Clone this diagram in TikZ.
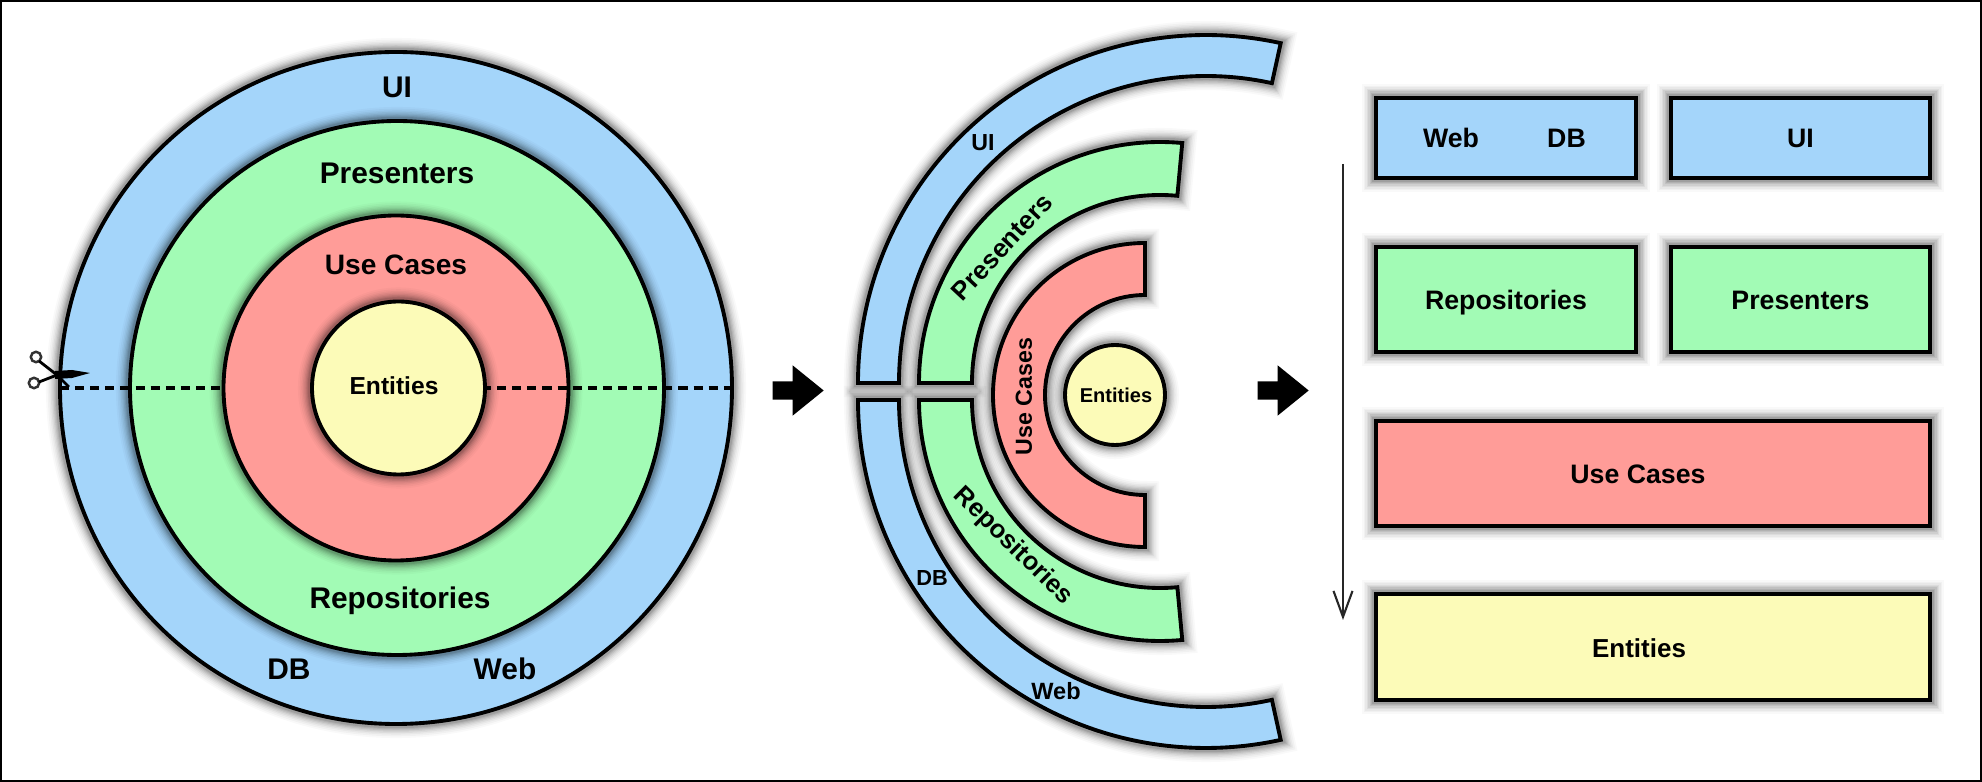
\documentclass[tikz,border=0pt]{standalone}
\usepackage{fontspec}
\setmainfont{Liberation Sans}
\usetikzlibrary{arrows.meta,shapes.arrows}

\definecolor{uiblue}{HTML}{A4D5FA}
\definecolor{repogreen}{HTML}{A2FBB5}
\definecolor{casered}{HTML}{FF9C98}
\definecolor{entyellow}{HTML}{FCFBB8}

\begin{document}
\begin{tikzpicture}[
    glow/.style={
        preaction={draw=black,draw opacity=.025,line width=8pt},
        preaction={draw=black,draw opacity=.03,line width=7pt},
        preaction={draw=black,draw opacity=.04,line width=6pt},
        preaction={draw=black,draw opacity=.05,line width=5.2pt},
        preaction={draw=black,draw opacity=.06,line width=4.4pt},
        preaction={draw=black,draw opacity=.07,line width=3.7pt},
        preaction={draw=black,draw opacity=.08,line width=3pt},
        preaction={draw=black,draw opacity=.10,line width=2.4pt}
    },
    ring/.style={draw=black, line width=1.1pt, line join=miter, glow},
    disc/.style={ring, circle, inner sep=0pt, outer sep=0pt},
    box/.style={ring, rectangle, line width=1.3pt, inner sep=0pt, outer sep=0pt,
        text height=5.5pt, text depth=0pt, font=\fontsize{7.6}{9}\bfseries},
    label/.style={inner sep=0pt, font=\fontsize{8.5}{10}\bfseries},
    bigarrow/.style={single arrow, fill=black, inner sep=.085cm, minimum height=.51cm,
        single arrow head extend=.16cm, single arrow tip angle=78, anchor=tail},
    cutline/.style={line width=1pt, dash pattern=on 2.6pt off 1.7pt},
    flow/.style={-{Straight Barb[length=2.6mm,width=1.9mm]}, line width=.6pt, black!85}
]
\useasboundingbox (0,0) rectangle (19.82,7.82);
\draw[line width=.6pt] (.01,.01) rectangle (19.81,7.81);

% Left picture, concentric circles
\node[disc, fill=uiblue, minimum size=6.72cm]    (uicircle)   at (3.96, 3.94) {};
\node[disc, fill=repogreen, minimum size=5.34cm] (repocircle) at (3.97, 3.94) {};
\node[disc, fill=casered, minimum size=3.45cm]   (casecircle) at (3.96, 3.94) {};

% Cut line, stops at the red circle on the left
\draw[cutline] (uicircle.west) -- (casecircle.west);
\draw[cutline] (casecircle.center) ++(.86,0) -- (uicircle.east);

\node[disc, fill=entyellow, minimum size=1.73cm] (entcircle)  at (3.985, 3.94) {};

\node[label] (uitext)    at (3.97, 6.95) {UI};
\node[label] (pretext)   at (3.97, 6.09) {Presenters};
\node[label, font=\fontsize{8}{10}\bfseries] (casetext) at (3.96, 5.17) {Use Cases};
\node[label, font=\fontsize{7}{9}\bfseries]  (enttext)  at (3.94, 3.96) {Entities};
\node[label] (repotext)  at (4.00, 1.81) {Repositories};
\node[label] (dbtext)    at (2.89, 1.13) {DB};
\node[label] (webtext)   at (5.05, 1.13) {Web};

% Scissors
\draw[line width=.7pt, black!80] (.36,4.25) circle (.052);
\draw[line width=.7pt, black!80] (.34,3.99) circle (.052);
\draw[line width=.8pt] (.39,4.21) -- (.57,4.07) -- (.69,3.95);
\draw[line width=.8pt] (.39,4.00) -- (.57,4.07);
\fill (.55,4.11) -- (.72,4.12) -- (.90,4.09) -- (.72,4.04) -- (.55,4.03) -- cycle;

\node[bigarrow] (firstarrow) at (7.72, 3.915) {};

% Middle picture, cut rings
\coordinate (uitop)    at (12.06, 3.99);
\coordinate (uibot)    at (12.06, 3.82);
\coordinate (repotop)  at (11.60, 3.99);
\coordinate (repobot)  at (11.60, 3.82);
\coordinate (casemid)  at (11.45, 3.87);

\draw[ring, fill=uiblue] ([shift={(180:3.48)}]uitop) arc[start angle=180, end angle=77.6, radius=3.48]
    -- ([shift={(77.6:3.07)}]uitop) arc[start angle=77.6, end angle=180, radius=3.07] -- cycle;
\draw[ring, fill=uiblue] ([shift={(180:3.48)}]uibot) arc[start angle=180, end angle=282.4, radius=3.48]
    -- ([shift={(282.4:3.07)}]uibot) arc[start angle=282.4, end angle=180, radius=3.07] -- cycle;
\draw[ring, fill=repogreen] ([shift={(180:2.41)}]repotop) arc[start angle=180, end angle=84.7, radius=2.41]
    -- ([shift={(84.7:1.88)}]repotop) arc[start angle=84.7, end angle=180, radius=1.88] -- cycle;
\draw[ring, fill=repogreen] ([shift={(180:2.41)}]repobot) arc[start angle=180, end angle=275.3, radius=2.41]
    -- ([shift={(275.3:1.88)}]repobot) arc[start angle=275.3, end angle=180, radius=1.88] -- cycle;
\draw[ring, fill=casered] ([shift={(90:1.52)}]casemid) arc[start angle=90, end angle=270, radius=1.52]
    -- ([shift={(270:1.00)}]casemid) arc[start angle=270, end angle=90, radius=1.00] -- cycle;
\node[disc, fill=entyellow, minimum size=1.00cm] (entsmall) at (11.15, 3.87) {};

\node[label, font=\fontsize{6.6}{8}\bfseries] (uiarc)   at (9.83, 6.39) {UI};
\node[label, font=\fontsize{7.4}{9}\bfseries, rotate=47] (prearc) at (10.02, 5.35) {Presenters};
\node[label, font=\fontsize{6.6}{8}\bfseries, rotate=90] (casearc) at (10.24, 3.855) {Use Cases};
\node[label, font=\fontsize{5.7}{7}\bfseries] (entarc)  at (11.16, 3.87) {Entities};
\node[label, font=\fontsize{7.3}{9}\bfseries, rotate=-44.5] (repoarc) at (10.13, 2.36) {Repositories};
\node[label, font=\fontsize{6.2}{8}\bfseries] (dbarc)   at (9.32, 2.04) {DB};
\node[label, font=\fontsize{6.7}{8}\bfseries] (webarc)  at (10.56, 0.91) {Web};

\node[bigarrow] (secondarrow) at (12.57, 3.915) {};

% Right picture, flat layers
\node[box, fill=uiblue, minimum width=2.60cm, minimum height=.80cm] (dbbox)   at (15.06, 6.44) {};
\node[box, fill=uiblue, minimum width=2.59cm, minimum height=.80cm] (uibox)   at (18.005, 6.44) {UI};
\node[box, fill=repogreen, minimum width=2.60cm, minimum height=1.05cm] (repobox) at (15.06, 4.825) {Repositories};
\node[box, fill=repogreen, minimum width=2.59cm, minimum height=1.05cm] (prebox)  at (18.005, 4.825) {Presenters};
\node[box, fill=casered, minimum width=5.54cm, minimum height=1.05cm]   (casebox) at (16.53, 3.085) {};
\node[box, fill=entyellow, minimum width=5.54cm, minimum height=1.06cm] (entbox)  at (16.53, 1.35) {};

\node[label, font=\fontsize{7.6}{9}\bfseries] (webboxtext)  at (14.51, 6.44) {Web};
\node[label, font=\fontsize{7.6}{9}\bfseries] (dbboxtext)   at (15.665, 6.44) {DB};
\node[label, font=\fontsize{7.6}{9}\bfseries] (caseboxtext) at (16.38, 3.08) {Use Cases};
\node[label, font=\fontsize{7.4}{9}\bfseries] (entboxtext)  at (16.39, 1.34) {Entities};

\coordinate (flowstart) at (13.43, 6.18);
\coordinate (flowend)   at (13.43, 1.62);
\draw[flow] (flowstart) -- (flowend);

\end{tikzpicture}
\end{document}
